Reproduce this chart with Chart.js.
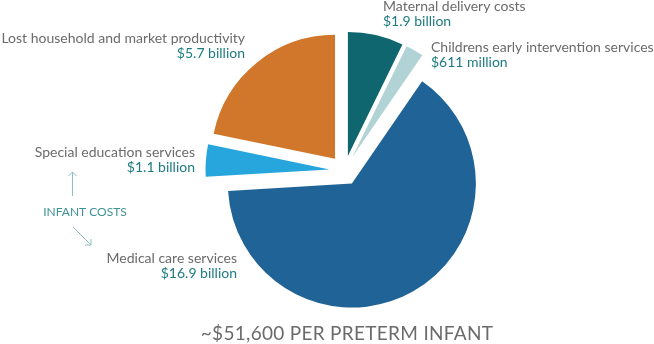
<!DOCTYPE html>
<html>
<head>
<meta charset="utf-8">
<script src="https://cdn.jsdelivr.net/npm/chart.js@4/dist/chart.umd.min.js"></script>
<style>
  html, body { margin: 0; padding: 0; background: #fff; }
  #wrap { width: 654px; height: 344px; position: relative; }
</style>
</head>
<body>
<div id="wrap"><canvas id="costChart" width="654" height="344"></canvas></div>
<script>
// data, clockwise from 12 o'clock
const categories = [
  'Maternal delivery costs',
  'Childrens early intervention services',
  'Medical care services',
  'Special education services',
  'Lost household and market productivity'
];
const costsBillion = [1.9, 0.611, 16.9, 1.1, 5.7];
const sliceColors = ['#10666e', '#b1d3d6', '#1f6397', '#27a5dd', '#d0772b'];
const footerText = '~$51,600 PER PRETERM INFANT';
const groupText = 'INFANT COSTS';

function money(v) {
  if (v >= 1) return '$' + v + ' billion';
  return '$' + Math.round(v * 1000) + ' million';
}

// where each label goes (x, y of first line, alignment)
const labelPos = [
  { x: 383, y: 6, align: 'left' },
  { x: 431, y: 47, align: 'left' },
  { x: 237, y: 258, align: 'right' },
  { x: 195, y: 152, align: 'right' },
  { x: 245, y: 38, align: 'right' }
];

const FONT = 'Lato, "Open Sans", sans-serif';

// pull every slice out from the centre (chart.js' own offset also grows the radius)
const explode = {
  id: 'explode',
  afterDatasetsUpdate(chart, args, opts) {
    chart.getDatasetMeta(0).data.forEach(arc => {
      const mid = (arc.startAngle + arc.endAngle) / 2;
      arc.x += Math.cos(mid) * opts.distance;
      arc.y += Math.sin(mid) * opts.distance;
    });
  }
};

const annotations = {
  id: 'annotations',
  afterDraw(chart) {
    const ctx = chart.ctx;
    ctx.save();
    ctx.textBaseline = 'middle';
    categories.forEach((name, i) => {
      const p = labelPos[i];
      ctx.textAlign = p.align;
      ctx.font = '14px ' + FONT;
      ctx.fillStyle = '#6b6b6b';
      ctx.fillText(name, p.x, p.y);
      ctx.fillStyle = '#1d7b80';
      ctx.fillText(money(costsBillion[i]), p.x, p.y + 15);
    });

    // infant costs group marker
    ctx.textAlign = 'center';
    ctx.font = '12px ' + FONT;
    ctx.fillStyle = '#3f9196';
    ctx.fillText(groupText, 85, 212);

    ctx.strokeStyle = '#8fbcc0';
    ctx.lineWidth = 1;
    ctx.beginPath();
    ctx.moveTo(72.5, 196); ctx.lineTo(72.5, 172);
    ctx.moveTo(68.5, 176); ctx.lineTo(72.5, 172); ctx.lineTo(76.5, 176);
    ctx.moveTo(73, 227); ctx.lineTo(91, 245);
    ctx.moveTo(85, 245); ctx.lineTo(91, 245); ctx.lineTo(91, 239);
    ctx.stroke();

    ctx.font = '19px ' + FONT;
    ctx.letterSpacing = '0.3px';
    ctx.fillStyle = '#6b6b6b';
    ctx.fillText(footerText, 347, 334);
    ctx.restore();
  }
};

new Chart(document.getElementById('costChart'), {
  type: 'pie',
  data: {
    labels: categories,
    datasets: [{
      data: costsBillion,
      backgroundColor: sliceColors,
      borderWidth: 0
    }]
  },
  options: {
    responsive: false,
    animation: false,
    radius: 124,
    layout: { padding: { left: 35, right: 0, top: 0, bottom: 3 } },
    plugins: {
      legend: { display: false },
      tooltip: { enabled: false },
      explode: { distance: 15 }
    }
  },
  plugins: [explode, annotations]
});
</script>
</body>
</html>
